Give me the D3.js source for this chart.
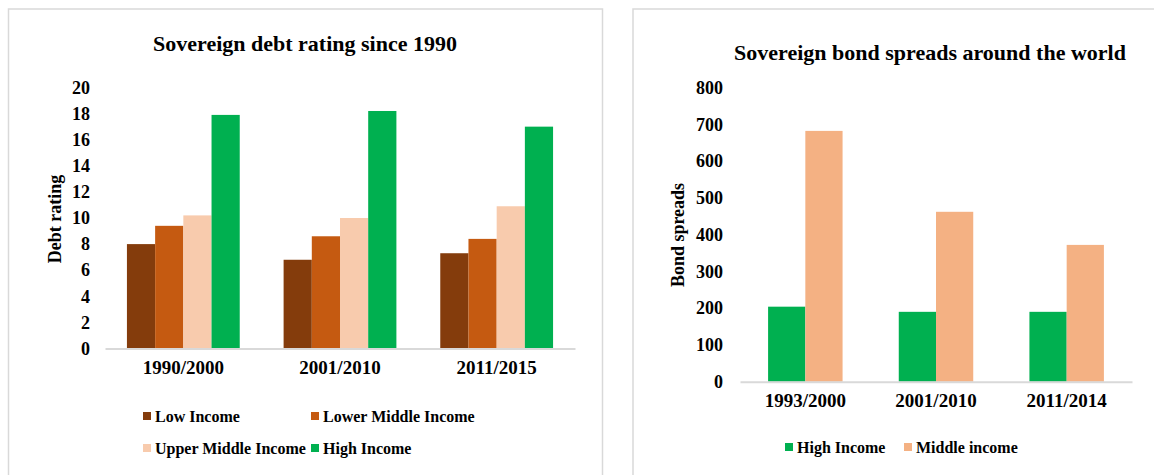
<html>
<head>
<script src="https://cdnjs.cloudflare.com/ajax/libs/d3/7.8.5/d3.min.js"></script>
<style>
  body { margin: 0; background: #fff; }
  svg { font-family: "Liberation Serif", "Times New Roman", serif; font-weight: bold; }
  .frame { fill: none; stroke: #d9d9d9; stroke-width: 1.5; }
  .tick text { fill: #000; }
</style>
</head>
<body>
<div id="chart"></div>
<script>
// left chart data
let ratingPeriods = ["1990/2000", "2001/2010", "2011/2015"];
let ratingSeries = ["Low Income", "Lower Middle Income", "Upper Middle Income", "High Income"];
let lowIncome = [8.0, 6.8, 7.3];
let lowerMiddle = [9.4, 8.6, 8.4];
let upperMiddle = [10.2, 10.0, 10.9];
let highIncome = [17.9, 18.2, 17.0];
let ratingTicks = [0, 2, 4, 6, 8, 10, 12, 14, 16, 18, 20];

// right chart data
let spreadPeriods = ["1993/2000", "2001/2010", "2011/2014"];
let spreadSeries = ["High Income", "Middle income"];
let spreadHigh = [204, 190, 190];
let spreadMiddle = [682, 462, 372];
let spreadTicks = [0, 100, 200, 300, 400, 500, 600, 700, 800];

let svg = d3.select('#chart').append('svg')
  .attr('width', 1154)
  .attr('height', 475);

// panel frames
svg.append('rect').attr('class', 'frame').attr('x', 8.5).attr('y', 9).attr('width', 594).attr('height', 480);
svg.append('rect').attr('class', 'frame').attr('x', 633).attr('y', 9).attr('width', 540).attr('height', 480);

function drawChart(cfg) {
  let g = svg.append('g');

  g.append('text')
    .attr('x', cfg.titleX).attr('y', cfg.titleY)
    .attr('text-anchor', 'middle').attr('dominant-baseline', 'central')
    .style('font-size', '22px')
    .text(cfg.title);

  let x = d3.scaleBand()
    .domain(cfg.categories)
    .range([cfg.left, cfg.right])
    .paddingInner(cfg.pad).paddingOuter(cfg.pad / 2);

  let xs = d3.scaleBand()
    .domain(cfg.series)
    .range([0, x.bandwidth()]);

  let y = d3.scaleLinear()
    .domain([0, d3.max(cfg.ticks)])
    .range([cfg.bottom, cfg.top]);

  // y axis (labels only)
  let ya = g.append('g')
    .attr('transform', 'translate(' + cfg.left + ',0)')
    .call(d3.axisLeft(y).tickValues(cfg.ticks).tickSize(0).tickPadding(cfg.tickPad))
    .attr('font-family', null).attr('font-size', null);
  ya.select('.domain').remove();
  ya.selectAll('text').style('font-size', '18px');

  // bars
  cfg.series.forEach((s, si) => {
    g.append('g').selectAll('rect')
      .data(cfg.values[si])
      .enter()
      .append('rect')
      .attr('x', (d, i) => x(cfg.categories[i]) + xs(s))
      .attr('y', d => y(d))
      .attr('width', xs.bandwidth())
      .attr('height', d => cfg.bottom - y(d))
      .attr('fill', cfg.colors[si]);
  });

  // x axis
  let xa = g.append('g')
    .attr('transform', 'translate(0,' + cfg.bottom + ')')
    .call(d3.axisBottom(x).tickSize(0).tickSizeOuter(0).tickPadding(12))
    .attr('font-family', null).attr('font-size', null);
  xa.select('.domain').attr('stroke', '#d9d9d9').attr('stroke-width', 2);
  xa.selectAll('text').style('font-size', '19px');

  // y label
  g.append('text')
    .attr('transform', 'translate(' + cfg.yLabelX + ',' + cfg.yLabelY + ') rotate(-90)')
    .attr('text-anchor', 'middle').attr('dominant-baseline', 'central')
    .style('font-size', '18px')
    .text(cfg.yLabel);

  // legend
  cfg.legend.forEach((p, i) => {
    g.append('rect')
      .attr('x', p[0]).attr('y', p[1] - 4)
      .attr('width', 8).attr('height', 8)
      .attr('fill', cfg.colors[i]);
    g.append('text')
      .attr('x', p[0] + 12).attr('y', p[1])
      .attr('dominant-baseline', 'central')
      .style('font-size', '16px')
      .text(cfg.series[i]);
  });
}

drawChart({
  title: 'Sovereign debt rating since 1990',
  titleX: 305, titleY: 43,
  categories: ratingPeriods,
  series: ratingSeries,
  values: [lowIncome, lowerMiddle, upperMiddle, highIncome],
  colors: ['#843C0C', '#C55A11', '#F8CBAD', '#00B050'],
  ticks: ratingTicks,
  left: 105, right: 575, top: 87.5, bottom: 348.5,
  pad: 0.28, tickPad: 15,
  yLabel: 'Debt rating', yLabelX: 55, yLabelY: 219,
  legend: [[143, 416], [311, 416], [143, 448], [311, 448]]
});

drawChart({
  title: 'Sovereign bond spreads around the world',
  titleX: 930, titleY: 52,
  categories: spreadPeriods,
  series: spreadSeries,
  values: [spreadHigh, spreadMiddle],
  colors: ['#00B050', '#F4B183'],
  ticks: spreadTicks,
  left: 740, right: 1132, top: 87.5, bottom: 381.7,
  pad: 0.43, tickPad: 17,
  yLabel: 'Bond spreads', yLabelX: 678, yLabelY: 235,
  legend: [[785, 447], [904, 447]]
});
</script>
</body>
</html>
